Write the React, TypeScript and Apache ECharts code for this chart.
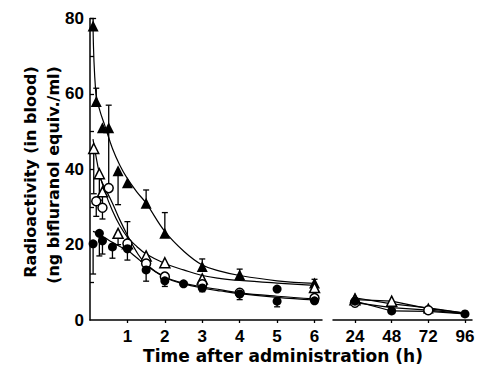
import React, { useEffect, useRef } from "react";
import * as echarts from "echarts";

// ---- early phase (0-6 h) measured points ----
const timesFilledTri = [0.083, 0.167, 0.333, 0.5, 0.75, 1, 1.5, 2, 3, 4, 6];
const filledTri = [78, 58, 51, 51, 39.6, 36.4, 31, 23, 14.2, 12, 9.8];
const filledTriErr = [2, 3.5, 0, 0, -9, 0, 3.5, 5.5, 2, 1.5, 1];

const timesOpenTri = [0.1, 0.25, 0.333, 0.75, 1, 1.5, 2, 3, 6];
const openTri = [45.5, 38.8, 34, 23, 20.2, 17, 15.2, 10.9, 8.6];
const openTriErr = [-12, -7, -4, -3, 0, -3, 0, -2, 0];

const timesOpenCirc = [0.167, 0.333, 0.5, 1, 1.5, 2, 3, 4, 6];
const openCirc = [31.5, 29.8, 35, 20.3, 15, 11.5, 9.5, 7.2, 5.8];
const openCircErr = [-4, -3, 22, 5.8, 0, 0, 0, 0, 0];

const timesFilledCirc = [0.083, 0.25, 0.333, 0.6, 1, 1.5, 2, 2.5, 3, 4, 5, 5, 6];
const filledCirc = [20.2, 23, 21, 19.4, 18.9, 13.3, 10.4, 9.6, 8.5, 6.9, 8.2, 5.0, 5.1];
const filledCircErr = [-8, -6, -3.5, -3, -3, -3, -1.5, 0, -1, -1.5, 0, -1.5, 0];

// ---- fitted curves (0-6 h) ----
const fitTimes = [0.08, 0.15, 0.25, 0.4, 0.6, 0.8, 1, 1.25, 1.5, 2, 2.5, 3, 3.5, 4, 5, 6];
const fitFilledTri = [78, 61, 56, 51.5, 45.5, 41, 37.5, 34, 31, 23.5, 18.3, 14.6, 12.9, 11.8, 10.4, 9.7];
const fitOpenTri = [48, 44, 39, 34, 29, 25, 22, 19.5, 17.5, 15, 13.3, 11.8, 11, 10.5, 9.8, 9.2];
const fitOpenCirc = [null, null, 38, 35, 31, 26.5, 22.5, 18, 14.8, 11.4, 9.8, 8.8, 8.0, 7.2, 6.3, 5.6];
const fitFilledCirc = [23.5, 23.2, 22.6, 21.8, 20.6, 19.5, 18.5, 16.5, 14.5, 11.3, 9.6, 8.5, 7.7, 7.0, 6.0, 5.3];

// ---- late phase (24-96 h) ----
const lateTimes = [24, 48, 72, 96];
const lateFilledTri = [5.9, 4.3, 3.2, 1.8];
const lateOpenTri = [5.4, 5.0, 3.0, 1.8];
const lateOpenCirc = [4.6, 3.3, 2.6, 1.7];
const lateFilledCirc = [5.0, 2.4, 2.3, 1.6];
const lateMarkFilledTri = [5.9, null, 3.2, null];
const lateMarkOpenTri = [5.4, 5.0, null, null];
const lateMarkOpenCirc = [4.6, null, 2.6, null];
const lateMarkFilledCirc = [5.0, 2.4, null, 1.6];

// ---- axes ----
const yTicks = [0, 20, 40, 60, 80];
const yMinorTicks = [10, 20, 30, 40, 50, 60, 70, 80];
const xTicksEarly = [1, 2, 3, 4, 5, 6];
const xTicksLate = [24, 48, 72, 96];
const yTitle1 = "Radioactivity (in blood)";
const yTitle2 = "(ng bifluranol equiv./ml)";
const xTitle = "Time after administration (h)";

const FONT = "Liberation Sans";
const TITLE_FONT = "DejaVu Sans";

const pairs = (xs: number[], ys: (number | null)[]) =>
  xs.map((x, i) => [x, ys[i]]).filter((p) => p[1] !== null);
const triples = (xs: number[], ys: number[], es: number[]) =>
  xs.map((x, i) => [x, ys[i], es[i]]).filter((p) => p[2] !== 0);

const filledStyle = { color: "#000", opacity: 1 };
const openStyle = { color: "#fff", borderColor: "#000", borderWidth: 1.5, opacity: 1 };

export default function App() {
  const ref = useRef<HTMLDivElement>(null);
  useEffect(() => {
    if (!ref.current) return;
    const chart = echarts.init(ref.current, undefined, { renderer: "svg" });

    const errSeries = (xs: number[], ys: number[], es: number[]) => ({
      type: "custom",
      xAxisIndex: 0,
      yAxisIndex: 0,
      z: 1,
      data: triples(xs, ys, es),
      renderItem: (params: any, api: any) => {
        const x = api.value(0);
        const y = api.value(1);
        const e = api.value(2);
        const p0 = api.coord([x, y]);
        const p1 = api.coord([x, y + e]);
        return {
          type: "group",
          children: [
            { type: "line", shape: { x1: p0[0], y1: p0[1], x2: p1[0], y2: p1[1] }, style: { stroke: "#000", lineWidth: 1.3 } },
            { type: "line", shape: { x1: p1[0] - 3, y1: p1[1], x2: p1[0] + 3, y2: p1[1] }, style: { stroke: "#000", lineWidth: 1.3 } },
          ],
        };
      },
    });

    const fitLine = (ys: (number | null)[]) => ({
      type: "line",
      xAxisIndex: 0,
      yAxisIndex: 0,
      smooth: 0.4,
      showSymbol: false,
      symbol: "none",
      z: 2,
      lineStyle: { color: "#000", width: 1.2 },
      data: pairs(fitTimes, ys),
    });
    const lateLine = (ys: number[]) => ({
      type: "line",
      xAxisIndex: 1,
      yAxisIndex: 1,
      showSymbol: false,
      symbol: "none",
      z: 2,
      lineStyle: { color: "#000", width: 1.2 },
      data: pairs(lateTimes, ys),
    });
    const marks = (xi: number, xs: number[], ys: (number | null)[], symbol: string, size: number, style: any) => ({
      type: "scatter",
      xAxisIndex: xi,
      yAxisIndex: xi,
      symbol,
      symbolSize: size,
      z: 3,
      itemStyle: style,
      data: pairs(xs, ys),
    });

    const axisText = { fontSize: 17, fontWeight: "bold", color: "#000", fontFamily: FONT };

    chart.setOption({
      animation: false,
      backgroundColor: "#fff",
      grid: [
        { left: 90, top: 18.5, width: 232, height: 301.5 },
        { left: 333, top: 18.5, width: 139, height: 301.5 },
      ],
      xAxis: [
        {
          gridIndex: 0,
          type: "value",
          min: 0,
          max: 6.2,
          axisLine: { show: true, onZero: false, lineStyle: { color: "#000", width: 1.5 } },
          axisTick: { show: true, customValues: xTicksEarly, length: 3, lineStyle: { color: "#000", width: 1.3 } },
          axisLabel: { ...axisText, customValues: xTicksEarly, margin: 8 },
          splitLine: { show: false },
        },
        {
          gridIndex: 1,
          type: "value",
          min: 9.6,
          max: 100.6,
          axisLine: { show: true, onZero: false, lineStyle: { color: "#000", width: 1.5 } },
          axisTick: { show: true, customValues: xTicksLate, length: 3, lineStyle: { color: "#000", width: 1.3 } },
          axisLabel: { ...axisText, customValues: xTicksLate, margin: 8 },
          splitLine: { show: false },
        },
      ],
      yAxis: [
        {
          gridIndex: 0,
          type: "value",
          min: 0,
          max: 80,
          axisLine: { show: true, onZero: false, lineStyle: { color: "#000", width: 1.5 } },
          axisTick: { show: true, inside: true, customValues: yMinorTicks, length: 4, lineStyle: { color: "#000", width: 1.3 } },
          axisLabel: { ...axisText, customValues: yTicks, margin: 6 },
          splitLine: { show: false },
        },
        { gridIndex: 1, type: "value", min: 0, max: 80, show: false, splitLine: { show: false } },
      ],
      graphic: [
        { type: "text", x: 30, y: 172, rotation: Math.PI / 2, style: { text: yTitle1, fill: "#000", align: "center", verticalAlign: "middle", font: `bold 16px "${TITLE_FONT}"` } },
        { type: "text", x: 53, y: 175, rotation: Math.PI / 2, style: { text: yTitle2, fill: "#000", align: "center", verticalAlign: "middle", font: `bold 16px "${TITLE_FONT}"` } },
        { type: "text", x: 283, y: 356, style: { text: xTitle, fill: "#000", align: "center", verticalAlign: "middle", font: `bold 17px "${TITLE_FONT}"` } },
      ],
      series: [
        errSeries(timesFilledTri, filledTri, filledTriErr),
        errSeries(timesOpenTri, openTri, openTriErr),
        errSeries(timesOpenCirc, openCirc, openCircErr),
        errSeries(timesFilledCirc, filledCirc, filledCircErr),
        fitLine(fitFilledTri),
        fitLine(fitOpenTri),
        fitLine(fitOpenCirc),
        fitLine(fitFilledCirc),
        lateLine(lateFilledTri),
        lateLine(lateOpenTri),
        lateLine(lateOpenCirc),
        lateLine(lateFilledCirc),
        marks(0, timesFilledTri, filledTri, "triangle", 11, filledStyle),
        marks(0, timesOpenTri, openTri, "triangle", 10, openStyle),
        marks(0, timesOpenCirc, openCirc, "circle", 9, openStyle),
        marks(0, timesFilledCirc, filledCirc, "circle", 9, filledStyle),
        marks(1, lateTimes, lateMarkFilledTri, "triangle", 11, filledStyle),
        marks(1, lateTimes, lateMarkOpenTri, "triangle", 10, openStyle),
        marks(1, lateTimes, lateMarkOpenCirc, "circle", 9, openStyle),
        marks(1, lateTimes, lateMarkFilledCirc, "circle", 9, filledStyle),
      ],
    });
    return () => chart.dispose();
  }, []);
  return <div ref={ref} style={{ position: "fixed", left: 0, top: 0, width: 479, height: 369 }} />;
}
